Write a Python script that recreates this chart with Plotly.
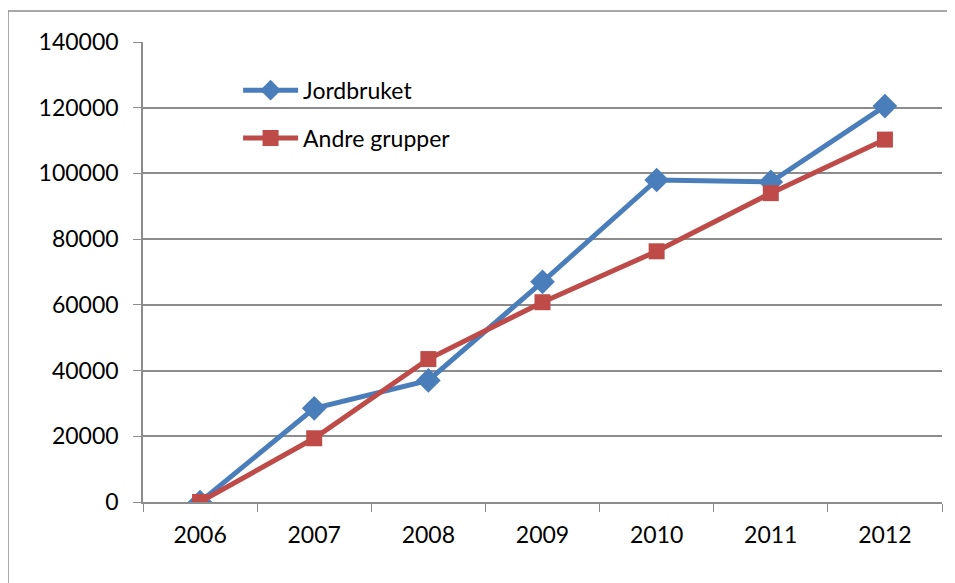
import plotly.graph_objects as go

years = ["2006", "2007", "2008", "2009", "2010", "2011", "2012"]
jordbruket = [0, 28500, 37000, 67000, 98000, 97400, 120500]
andre = [0, 19400, 43500, 60800, 76300, 94000, 110300]
yticks = [0, 20000, 40000, 60000, 80000, 100000, 120000, 140000]
yticklabels = ["0", "20000", "40000", "60000", "80000", "100000", "120000", "140000"]

fig = go.Figure()
fig.add_trace(go.Scatter(
    x=years, y=jordbruket, name="Jordbruket", mode="lines+markers",
    legendgroup="a",
    line=dict(color="#4A7EBB", width=5),
    marker=dict(symbol="diamond", size=19, color="#4A7EBB"),
))
fig.add_trace(go.Scatter(
    x=years, y=andre, name="Andre grupper", mode="lines+markers",
    legendgroup="b",
    line=dict(color="#BE4B48", width=5),
    marker=dict(symbol="square", size=16, color="#BE4B48"),
))

grid = "#8c8c8c"
fig.update_layout(
    width=955, height=583,
    margin=dict(l=135, r=21, t=34, b=89, autoexpand=False),
    paper_bgcolor="white", plot_bgcolor="white",
    font=dict(family="Lato, Open Sans, sans-serif", size=23, color="black"),
    showlegend=True,
    legend=dict(x=0.119, y=0.942, xanchor="left", yanchor="top",
                bgcolor="rgba(0,0,0,0)", font=dict(size=23),
                tracegroupgap=15, itemwidth=55),
    xaxis=dict(type="category", tickson="boundaries", ticks="outside", ticklen=8,
               tickcolor=grid, showline=True, linecolor=grid, linewidth=1.5,
               showgrid=False, range=[-0.5, 6.5], mirror=False,
               tickfont=dict(size=23), ticklabelstandoff=12),
    yaxis=dict(range=[0, 140000], tickvals=yticks, ticktext=yticklabels,
               ticks="outside", ticklen=8,
               tickcolor=grid, showline=True, linecolor=grid, linewidth=1.5,
               showgrid=True, gridcolor=grid, gridwidth=1.5, zeroline=False,
               ticksuffix="  ", ticklabelstandoff=10, tickfont=dict(size=23)),
)
fig.add_shape(type="rect", xref="paper", yref="paper",
              x0=(0 - 135) / 799, x1=1.2, y0=-0.3, y1=(494 - 3) / 460,
              line=dict(color="#8c8c8c", width=1.5), layer="below")
fig.write_html("out.html")
